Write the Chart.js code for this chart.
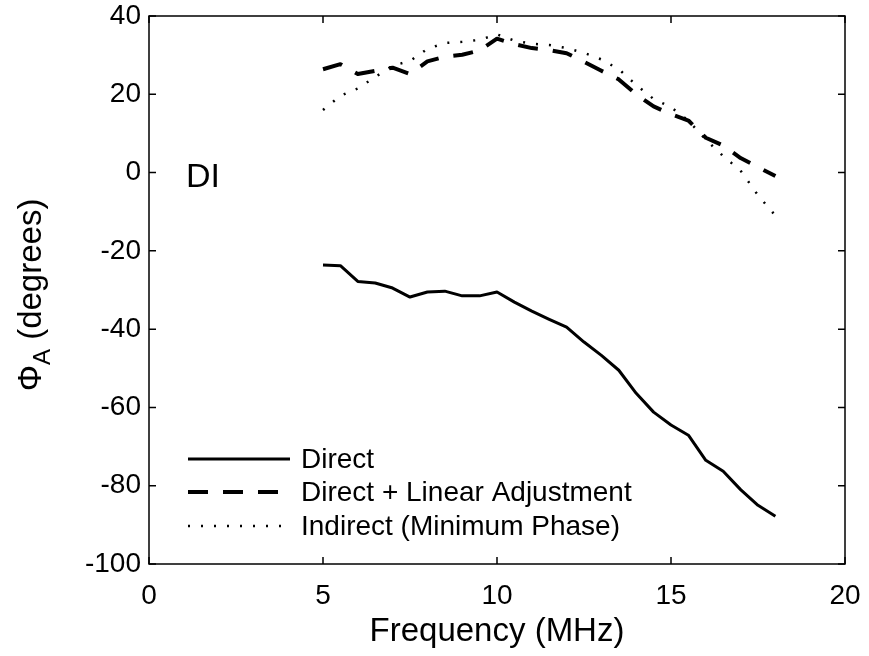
<!DOCTYPE html>
<html>
<head>
<meta charset="utf-8">
<script src="https://cdn.jsdelivr.net/npm/chart.js@4/dist/chart.umd.min.js"></script>
<style>
  html, body { margin: 0; padding: 0; background: #fff; }
  #chart { display: block; }
</style>
</head>
<body>
<canvas id="chart" width="869" height="656"></canvas>
<script>
const frequency = [5, 5.5, 6, 6.5, 7, 7.5, 8, 8.5, 9, 9.5, 10, 10.5, 11, 11.5, 12, 12.5, 13, 13.5, 14, 14.5, 15, 15.5, 16, 16.5, 17, 17.5, 18];
const direct = [-23.6, -23.8, -27.8, -28.2, -29.5, -31.8, -30.5, -30.3, -31.5, -31.5, -30.5, -33.1, -35.4, -37.5, -39.5, -43.3, -46.7, -50.5, -56.4, -61.2, -64.5, -67.1, -73.5, -76.3, -81.0, -85.0, -87.8];
const directAdjusted = [26.4, 27.7, 25.2, 26.0, 26.8, 25.2, 28.4, 29.6, 30.1, 31.2, 34.2, 32.8, 31.8, 31.3, 30.5, 28.3, 26.0, 23.8, 20.0, 16.9, 14.9, 13.3, 8.9, 6.9, 3.7, 1.4, -0.9];
const indirect = [16.0, 19.6, 21.5, 24.4, 27.3, 28.5, 31.6, 33.1, 33.4, 33.9, 35.3, 33.7, 32.9, 32.6, 31.8, 30.6, 28.9, 26.4, 22.4, 18.8, 16.7, 13.3, 8.4, 4.2, 0.5, -5.8, -11.0];

const xTicks = [0, 5, 10, 15, 20];
const yTicks = [-100, -80, -60, -40, -20, 0, 20, 40];

const legendItems = ['Direct', 'Direct + Linear Adjustment', 'Indirect (Minimum Phase)'];
const annotation = 'DI';

const FONT = '"Liberation Sans", Arial, sans-serif';

function points(ys) {
    return frequency.map((f, i) => ({ x: f, y: ys[i] }));
}

const lineStyles = [
    { dash: [], width: 3 },
    { dash: [20, 15], width: 4 },
    { dash: [2, 11], width: 2.5 }
];

// frame, inward ticks, axis titles, legend and the DI label
const decorations = {
    id: 'decorations',
    afterDraw(chart) {
        const ctx = chart.ctx;
        const a = chart.chartArea;
        const xs = chart.scales.x;
        const ys = chart.scales.y;
        const tick = 7;
        ctx.save();
        ctx.strokeStyle = '#000';
        ctx.lineWidth = 1.5;
        ctx.strokeRect(a.left, a.top, a.right - a.left, a.bottom - a.top);
        ctx.beginPath();
        xTicks.forEach(v => {
            const px = xs.getPixelForValue(v);
            ctx.moveTo(px, a.bottom); ctx.lineTo(px, a.bottom - tick);
            ctx.moveTo(px, a.top); ctx.lineTo(px, a.top + tick);
        });
        yTicks.forEach(v => {
            const py = ys.getPixelForValue(v);
            ctx.moveTo(a.left, py); ctx.lineTo(a.left + tick, py);
            ctx.moveTo(a.right, py); ctx.lineTo(a.right - tick, py);
        });
        ctx.stroke();

        ctx.fillStyle = '#000';
        // x title
        ctx.font = '33px ' + FONT;
        ctx.textAlign = 'center';
        ctx.textBaseline = 'alphabetic';
        ctx.fillText('Frequency (MHz)', (a.left + a.right) / 2, 641);

        // y title with subscript
        ctx.save();
        ctx.translate(41, 295);
        ctx.rotate(-Math.PI / 2);
        ctx.textAlign = 'left';
        const phi = 'Φ';
        const rest = ' (degrees)';
        ctx.font = '33px ' + FONT;
        const wPhi = ctx.measureText(phi).width;
        ctx.font = '24px ' + FONT;
        const wSub = ctx.measureText('A').width;
        ctx.font = '33px ' + FONT;
        const wRest = ctx.measureText(rest).width;
        let x0 = -(wPhi + wSub + wRest) / 2;
        ctx.fillText(phi, x0, 0);
        ctx.font = '24px ' + FONT;
        ctx.fillText('A', x0 + wPhi, 9);
        ctx.font = '33px ' + FONT;
        ctx.fillText(rest, x0 + wPhi + wSub, 0);
        ctx.restore();

        // DI label
        ctx.font = '34px ' + FONT;
        ctx.textAlign = 'left';
        ctx.fillText(annotation, 186, 187);

        // legend
        ctx.font = '28px ' + FONT;
        ctx.textBaseline = 'middle';
        const rows = [459, 492, 526];
        legendItems.forEach((label, i) => {
            const st = lineStyles[i];
            ctx.save();
            ctx.lineWidth = st.width;
            ctx.setLineDash(st.dash);
            ctx.beginPath();
            ctx.moveTo(188, rows[i]);
            ctx.lineTo(290, rows[i]);
            ctx.stroke();
            ctx.restore();
            ctx.fillText(label, 301, rows[i] + 1);
        });
        ctx.restore();
    }
};

const datasets = [direct, directAdjusted, indirect].map((ys, i) => ({
    label: legendItems[i],
    data: points(ys),
    showLine: true,
    fill: false,
    borderColor: '#000',
    borderWidth: lineStyles[i].width,
    borderDash: lineStyles[i].dash,
    borderJoinStyle: 'round',
    pointRadius: 0,
    tension: 0
}));

new Chart(document.getElementById('chart').getContext('2d'), {
    type: 'scatter',
    data: { datasets },
    options: {
        responsive: false,
        animation: false,
        layout: { padding: { left: 0, top: 16, right: 24, bottom: 0 } },
        scales: {
            x: {
                type: 'linear',
                min: 0,
                max: 20,
                afterBuildTicks: s => { s.ticks = xTicks.map(v => ({ value: v })); },
                afterFit: s => { s.height = 92; s.paddingLeft = 0; s.paddingRight = 0; },
                grid: { display: false, drawTicks: false },
                border: { display: false },
                ticks: { color: '#000', padding: 15, font: { family: FONT, size: 28 } }
            },
            y: {
                type: 'linear',
                min: -100,
                max: 40,
                afterBuildTicks: s => { s.ticks = yTicks.map(v => ({ value: v })); },
                afterFit: s => { s.width = 149; s.paddingTop = 0; s.paddingBottom = 0; },
                grid: { display: false, drawTicks: false },
                border: { display: false },
                ticks: { color: '#000', padding: 8, font: { family: FONT, size: 28 } }
            }
        },
        plugins: {
            legend: { display: false },
            tooltip: { enabled: false }
        }
    },
    plugins: [decorations]
});
</script>
</body>
</html>
